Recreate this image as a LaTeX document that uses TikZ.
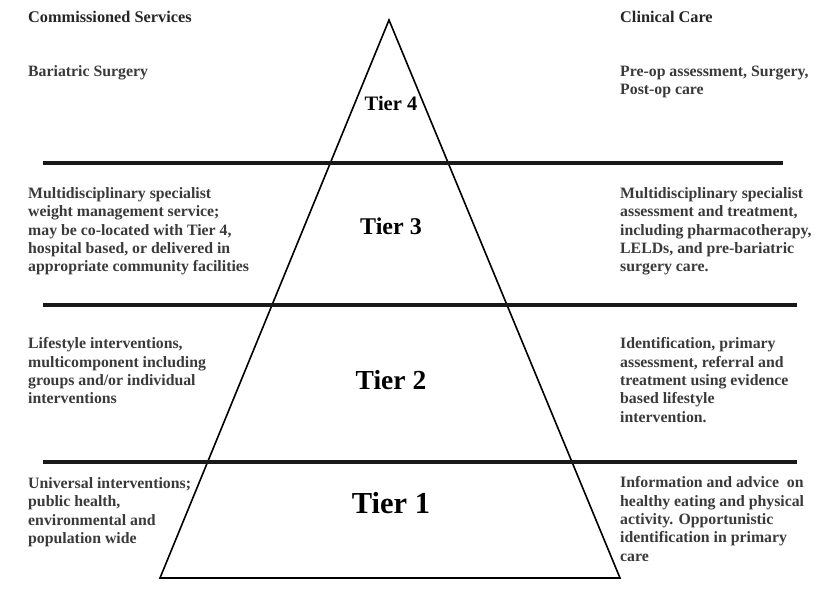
\documentclass[tikz,border=0pt]{standalone}
\usepackage{fontspec}
\setmainfont{Liberation Serif}
\definecolor{bodygray}{HTML}{3A3A3A}
\begin{document}
\begin{tikzpicture}[x=1pt,y=-1pt,
    side/.style={anchor=north west,inner sep=0pt,align=left,text=bodygray,
      font=\bfseries\fontsize{15.8}{18.3}\selectfont},
    head/.style={side,text=black!85,font=\bfseries\fontsize{16.3}{18.3}\selectfont},
    tier/.style={inner sep=0pt,font=\bfseries\fontsize{#1}{#1}\selectfont}]
    \useasboundingbox[fill=white] (0,0) rectangle (820,605);

    % pyramid
    \coordinate (top) at (389,20);
    \coordinate (bl) at (160,578);
    \coordinate (br) at (620,578);
    \draw[line width=1.6pt,line join=miter] (top) -- (bl) -- (br) -- cycle;

    % tier separators
    \foreach \y/\xe in {163/783, 305/797, 462/797}
    \draw[line width=3.2pt,black!90] (43,\y) -- (\xe,\y);

    % tier labels
    \foreach \n/\y/\s in {4/103/20.5, 3/226/24, 2/380/27.5, 1/503/30.5}
    \node[tier=\s](tier\n) at (391,\y) {Tier \n};

    % left column
    \node[head](cs) at (28,10.5) {Commissioned Services};
    \node[side](cs4) at (28,65.5) {Bariatric Surgery};
    \node[side](cs3) at (28,187.5) {Multidisciplinary specialist\\weight management service;\\may be co-located with Tier 4,\\hospital based, or delivered in\\appropriate community facilities};
    \node[side](cs2) at (28,337.5) {Lifestyle interventions,\\multicomponent including\\groups and/or individual\\interventions};
    \node[side](cs1) at (28,477.5) {Universal interventions;\\public health,\\environmental and\\population wide};

    % right column
    \node[head](cc) at (620,10.5) {Clinical Care};
    \node[side](cc4) at (620,65.5) {Pre-op assessment, Surgery,\\Post-op care};
    \node[side](cc3) at (620,187.5) {Multidisciplinary specialist\\assessment and treatment,\\including pharmacotherapy,\\LELDs, and pre-bariatric\\surgery care.};
    \node[side](cc2) at (620,337.5) {Identification, primary\\assessment, referral and\\treatment using evidence\\based lifestyle\\intervention.};
    \node[side](cc1) at (620,476.5) {Information and advice \ on\\healthy eating and physical\\activity. Opportunistic\\identification in primary\\care};
  \end{tikzpicture}
\end{document}
